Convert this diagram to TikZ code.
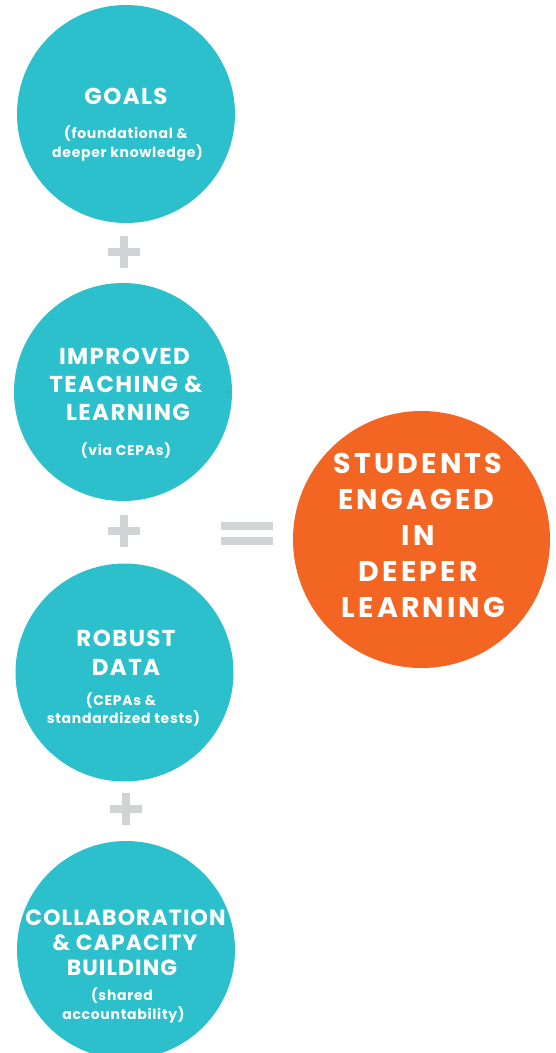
\documentclass[tikz,border=0pt]{standalone}
\usepackage{fontspec}
\setmainfont{Poppins}
\newfontfamily\ttlfont[LetterSpace=6]{Poppins}
\newfontfamily\ttlfontb[LetterSpace=5]{Poppins}
\newfontfamily\subfont[LetterSpace=5]{Poppins}
\newfontfamily\resfont[LetterSpace=11]{Poppins}
\definecolor{tealc}{HTML}{2CBFCC}
\definecolor{orangec}{HTML}{F26522}
\definecolor{grayc}{HTML}{D1D3D4}
\begin{document}
\begin{tikzpicture}[x=1pt,y=-1pt,
  bub/.style={circle,fill=tealc,minimum size=218pt,inner sep=0pt},
  big/.style={circle,fill=orangec,minimum size=257pt,inner sep=0pt},
  ttl/.style={text=white,font=\ttlfont\fontsize{23}{23}\selectfont\bfseries,anchor=base,inner sep=0pt},
  ttlb/.style={text=white,font=\ttlfontb\fontsize{22}{22}\selectfont\bfseries,anchor=base,inner sep=0pt},
  sub/.style={text=white,font=\subfont\fontsize{14}{14}\selectfont\bfseries,anchor=base,inner sep=0pt},
  res/.style={text=white,font=\resfont\fontsize{28.5}{28.5}\selectfont\bfseries,anchor=base,inner sep=0pt},
  sign/.style={fill=grayc}]
\useasboundingbox (0,0) rectangle (555,1053);
\node[bub] (c1) at (126,114) {};
\node[bub] (c2) at (123,392) {};
\node[bub] (c3) at (124.5,672.5) {};
\node[bub] (c4) at (126,950) {};
\node[big] (c5) at (421.5,539.5) {};
% circle 1
\node[ttl] (t1a) at (126,104) {GOALS};
\node[sub] (t1b) at (126,138) {(foundational \&};
\node[sub] (t1c) at (127.5,157) {deeper knowledge)};
% circle 2
\node[ttl] (t2a) at (124.5,364) {IMPROVED};
\node[ttl] (t2b) at (126,392) {TEACHING \&};
\node[ttl] (t2c) at (128,420) {LEARNING};
\node[sub] (t2d) at (126,455) {(via CEPAs)};
% circle 3
\node[ttl] (t3a) at (126,646) {ROBUST};
\node[ttl] (t3b) at (126,675) {DATA};
\node[sub] (t3c) at (121,705) {(CEPAs \&};
\node[sub] (t3d) at (123.5,723) {standardized tests)};
% circle 4
\node[ttlb] (t4a) at (125.5,925) {COLLABORATION};
\node[ttlb] (t4b) at (125,950) {\& CAPACITY};
\node[ttlb] (t4c) at (122,975) {BUILDING};
\node[sub] (t4d) at (122,1000) {(shared};
\node[sub] (t4e) at (123.5,1019) {accountability)};
% result
\node[res] (t5a) at (418,473) {STUDENTS};
\node[res] (t5b) at (416.5,509) {ENGAGED};
\node[res] (t5c) at (418,545) {IN};
\node[res] (t5d) at (418.5,581) {DEEPER};
\node[res] (t5e) at (423.5,617) {LEARNING};
% plus signs
\fill[sign] (120,236) rectangle (128,268);
\fill[sign] (108,248) rectangle (140,256);
\fill[sign] (120,515) rectangle (128,547);
\fill[sign] (108,527) rectangle (140,535);
\fill[sign] (121.5,793) rectangle (129.5,825);
\fill[sign] (109.5,805) rectangle (141.5,813);
% equals
\fill[sign] (221,522) rectangle (273,529.5);
\fill[sign] (221,537) rectangle (273,544.5);
\end{tikzpicture}
\end{document}
